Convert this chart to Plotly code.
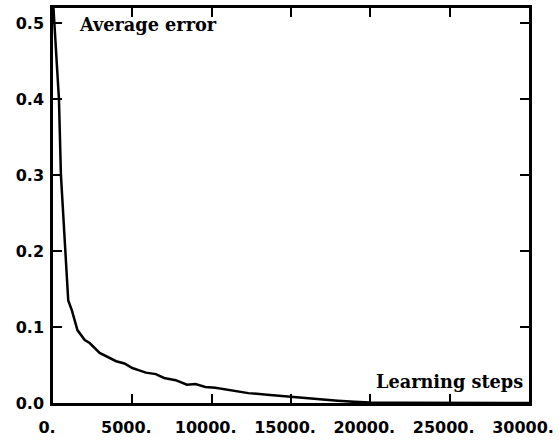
import plotly.graph_objects as go

steps = [0, 150, 375, 500, 750, 960, 1190, 1540, 2000, 2310, 2940, 3560, 3980, 4500, 5000,
         5440, 5850, 6480, 7000, 7730, 8440, 8980, 9600, 10230, 10860, 11480, 12310,
         13500, 15000, 16500, 17940, 19000, 20000, 22000, 25000, 27500, 30000]
avg_error = [0.53, 0.48, 0.40, 0.30, 0.20, 0.135, 0.122, 0.096, 0.083, 0.079, 0.066, 0.060,
             0.055, 0.052, 0.046, 0.043, 0.040, 0.038, 0.033, 0.030, 0.024, 0.025, 0.021,
             0.020, 0.018, 0.016, 0.013, 0.011, 0.008, 0.005, 0.003, 0.0015, 0.0005,
             0.0003, 0.0002, 0.0001, 0.0]

x_ticks = [0, 5000, 10000, 15000, 20000, 25000, 30000]
x_ticktext = ["0.", "5000.", "10000.", "15000.", "20000.", "25000.", "30000."]
y_ticks = [0.0, 0.1, 0.2, 0.3, 0.4, 0.5]
y_ticktext = ["0.0", "0.1", "0.2", "0.3", "0.4", "0.5"]

fig = go.Figure()
fig.add_trace(go.Scatter(x=steps, y=avg_error, mode="lines",
                         line=dict(color="black", width=2.5), showlegend=False))

axis_common = dict(showgrid=False, zeroline=False, showline=True, linecolor="black",
                   linewidth=2.5, mirror="ticks", ticks="inside", ticklen=9,
                   tickwidth=2, tickcolor="black",
                   tickfont=dict(family="DejaVu Sans", size=16, color="black", weight="bold"))

fig.update_xaxes(range=[0, 30000], tickvals=x_ticks, ticktext=x_ticktext,
                 ticklabelstandoff=8, ticklabelshift=-6, **axis_common)
fig.update_yaxes(range=[0, 0.52], tickvals=y_ticks, ticktext=y_ticktext,
                 ticklabelstandoff=3, **axis_common)

ann_font = dict(family="DejaVu Serif", size=17.7, color="black", weight="bold")
fig.add_annotation(text="Average error", xref="paper", yref="paper", x=0.05, y=0.957,
                   xanchor="left", yanchor="middle", showarrow=False, font=ann_font)
fig.add_annotation(text="Learning steps", xref="paper", yref="paper", x=0.992, y=0.055,
                   xanchor="right", yanchor="middle", showarrow=False, font=ann_font)

fig.update_layout(width=559, height=442, margin=dict(l=53, r=26, t=5, b=39),
                  paper_bgcolor="white", plot_bgcolor="white")

fig.write_html("out.html", config={"displayModeBar": False},
               post_script="document.body.style.margin='0';")
